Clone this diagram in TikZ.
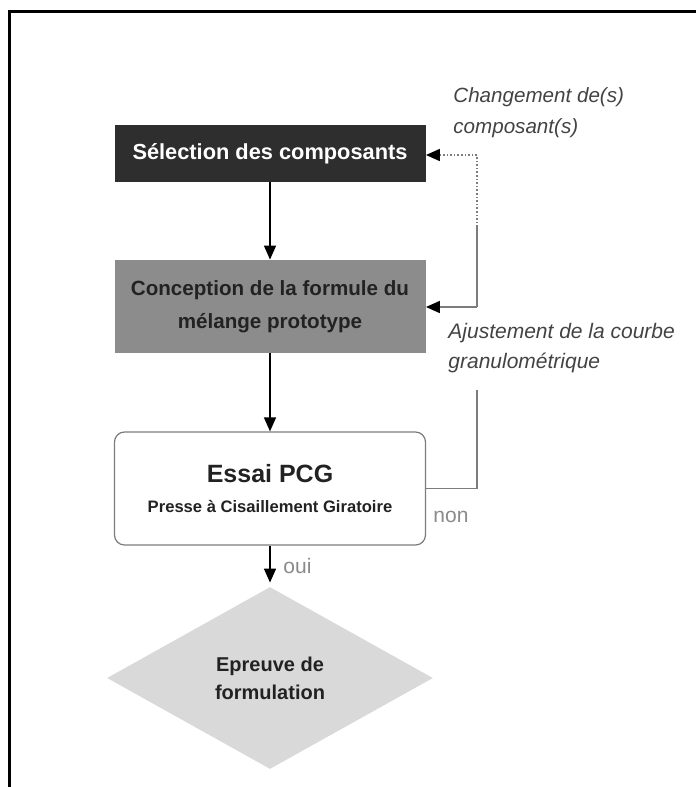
\documentclass[tikz,border=0pt]{standalone}
\usepackage{fontspec}
\setmainfont{Liberation Sans}
\usetikzlibrary{positioning, shapes.geometric, arrows.meta}
\definecolor{boxdark}{HTML}{2E2E2E}
\definecolor{boxmid}{HTML}{8C8C8C}
\definecolor{boxlight}{HTML}{D9D9D9}
\definecolor{loopgray}{HTML}{7C7C7C}
\definecolor{textdark}{HTML}{222222}
\definecolor{notegray}{HTML}{8A8A8A}

\begin{document}
\begin{tikzpicture}[
    x=0.5pt, y=-0.5pt,
    on grid,
    every node/.style={inner sep=0pt},
    stepbox/.style={minimum width=155.5pt, align=center, text=textdark},
    flow/.style={-{Triangle[width=6pt,length=7pt]}, line width=0.75pt, black},
    back/.style={-{Triangle[width=6pt,length=7pt,black]}, line width=0.8pt, draw=loopgray},
    loopline/.style={line width=0.8pt, draw=loopgray},
    note/.style={font=\itshape\fontsize{10.3}{15.5}\selectfont, text=textdark!85, align=left},
    answer/.style={font=\fontsize{10.5}{12}\selectfont, text=notegray}
]

   % Frame
   \useasboundingbox (0,0) rectangle (696,787);
   \draw[line width=1.5pt] (9,787) -- (9,11) -- (696,11);

   % Steps
   \node[stepbox, fill=boxdark, text=white, minimum height=28.5pt,
         font=\bfseries\fontsize{10.9}{12}\selectfont] (sel) at (270,153.5) {Sélection des composants};
   \node[stepbox, fill=boxmid, minimum height=46.5pt,
         font=\bfseries\fontsize{10.3}{16.5}\selectfont] (conc) [below=76.5pt of sel] {Conception de la formule du\\mélange prototype};
   \node[stepbox, draw=loopgray, line width=0.6pt, rounded corners=5pt, minimum height=56.5pt,
         font=\bfseries] (essai) [below=91pt of conc]
         {{\fontsize{12.5}{14}\selectfont Essai PCG}\\[3pt]{\fontsize{8.3}{10}\selectfont Presse à Cisaillement Giratoire}};
   \node[diamond, fill=boxlight, minimum width=163pt, minimum height=91pt, align=center, text=textdark,
         font=\bfseries\fontsize{10}{14}\selectfont] (epr) [below=94.75pt of essai] {Epreuve de\\formulation};

   % Main flow
   \draw[flow] (sel) -- (conc);
   \draw[flow] (conc) -- (essai);
   \draw[flow, shorten >=2pt] (essai) -- (epr);

   % Feedback loops
   \coordinate (up) at (477,155);
   \coordinate (split) at (477,227);
   \coordinate (mid) at (477,307);
   \coordinate (low) at (477,390);
   \draw[loopline, densely dotted] (split) -- (up);
   \draw[back, densely dotted] (up) -- (up -| sel.east);
   \draw[loopline] (split) -- (mid);
   \draw[back] (mid) -- (mid -| conc.east);
   \draw[loopline] (essai.east) -- (essai.east -| low) -- (low);

   % Labels (base = last line)
   \node[note, anchor=base west] (chg) at (453,133) {Changement de(s)\\composant(s)};
   \node[note, anchor=base west, font=\itshape\fontsize{10.5}{15}\selectfont] (ajust) at (448,368) {Ajustement de la courbe\\granulométrique};
   \node[answer, anchor=base west] (non) at (433,522) {non};
   \node[answer, anchor=base west] (oui) at (283,573) {oui};

\end{tikzpicture}
\end{document}
